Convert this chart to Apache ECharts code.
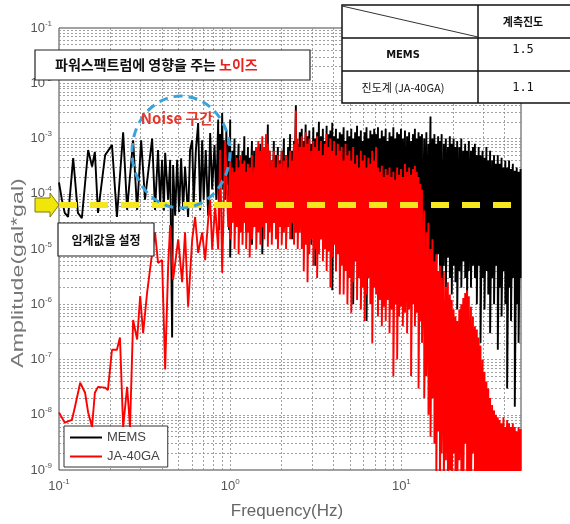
<!DOCTYPE html>
<html><head><meta charset="utf-8">
<script src="https://cdn.jsdelivr.net/npm/echarts@6/dist/echarts.min.js"></script>
<style>html,body{margin:0;padding:0;background:#fff}#c{width:570px;height:524px}</style>
</head><body><div id="c"></div>
<script>
// ---------- data ----------
const seriesNames = ['MEMS', 'JA-40GA'];
const memsLowHz = [0.100,0.104,0.108,0.113,0.121,0.129,0.136,0.148,0.156,0.162,0.169,0.186,0.204,0.218,0.237,0.250,0.271,0.286,0.302,0.318,0.350,0.364,0.379,0.390,0.400,0.410,0.417,0.434,0.446,0.458,0.464,0.477,0.490,0.503,0.517,0.531,0.545,0.568,0.583,0.600,0.612,0.630,0.650,0.668,0.686,0.700,0.720,0.744,0.764,0.785,0.810,0.830,0.851,0.860,0.874,0.886,0.898,0.910,0.920,0.935,0.950,0.960,0.974,0.985];
const memsLowAmp = [1.6e-4,7.8e-5,4.5e-5,3.8e-5,4.4e-4,4.5e-5,3.6e-5,6.2e-4,3.1e-4,5.7e-4,4.5e-5,5e-4,7.6e-4,3.8e-5,1.3e-3,5.1e-5,9.3e-4,5.1e-5,9.3e-4,7.8e-5,1e-3,5.1e-5,6.2e-4,6.3e-5,4.1e-4,5e-5,5.5e-4,7.8e-5,4.1e-4,2.5e-7,3.3e-4,4e-5,4.1e-4,4.7e-5,4.4e-4,5.1e-5,3.1e-4,3.8e-5,6.2e-4,9.3e-4,6.3e-5,6e-4,1.9e-3,5.1e-5,9.3e-4,7.8e-5,6.2e-4,4e-5,1.26e-3,1.2e-4,7.6e-4,7.8e-5,2.2e-3,2.2e-5,1.2e-3,1.8e-4,2.9e-3,1.2e-4,9.3e-4,7.8e-5,1.4e-3,1.45e-4,7.6e-4,2.2e-5];
const jaLowHz = [0.100,0.108,0.119,0.124,0.133,0.142,0.148,0.156,0.162,0.169,0.186,0.193,0.204,0.218,0.227,0.237,0.250,0.260,0.271,0.286,0.298,0.310,0.327,0.350,0.364,0.379,0.400,0.417,0.434,0.446,0.464,0.497,0.524,0.545,0.568,0.600,0.624,0.650,0.686,0.714,0.744,0.764,0.785,0.817,0.851,0.874,0.898,0.935,0.974];
const jaLowAmp = [1.1e-8,7.2e-9,8.1e-9,1.4e-8,3.8e-8,2.5e-8,1.1e-8,6e-9,2.5e-8,3.2e-8,3.1e-8,2.8e-8,1.5e-7,1.5e-7,2.5e-7,6e-9,3.2e-8,6e-9,5.2e-7,2.3e-7,1.4e-6,3e-7,1.6e-6,8.5e-6,2e-5,5.6e-6,6.3e-6,6.6e-8,4.7e-6,2.7e-5,2.8e-6,1.5e-5,2.5e-6,2e-5,9e-7,1.5e-5,3.8e-5,8.5e-6,2e-5,6.3e-6,3.4e-5,7.8e-5,9.8e-6,6e-5,9.8e-6,6.2e-4,3.7e-6,9e-4,2.5e-5];
// dense band 1-50 Hz: for each frequency a peak value and a trough value
const highHz = [1.00,1.03,1.06,1.09,1.12,1.15,1.18,1.21,1.24,1.27,1.30,1.34,1.38,1.42,1.46,1.50,1.54,1.58,1.62,1.66,1.70,1.75,1.80,1.85,1.90,1.95,2.00,2.06,2.12,2.18,2.24,2.30,2.36,2.42,2.48,2.55,2.62,2.69,2.76,2.83,2.90,2.98,3.06,3.14,3.22,3.30,3.39,3.48,3.57,3.66,3.75,3.85,3.95,4.05,4.15,4.26,4.37,4.48,4.60,4.72,4.84,4.97,5.10,5.23,5.37,5.51,5.65,5.80,5.95,6.10,6.26,6.42,6.59,6.76,6.94,7.12,7.30,7.49,7.69,7.89,8.10,8.31,8.53,8.75,8.98,9.21,9.45,9.70,9.95,10.2,10.5,10.8,11.1,11.4,11.7,12.0,12.3,12.6,12.9,13.2,13.6,14.0,14.4,14.8,15.2,15.6,16.0,16.4,16.8,17.2,17.7,18.2,18.7,19.2,19.7,20.2,20.7,21.2,21.8,22.4,23.0,23.6,24.2,24.8,25.5,26.2,26.9,27.6,28.3,29.0,29.8,30.6,31.4,32.2,33.0,33.9,34.8,35.7,36.6,37.5,38.5,39.5,40.5,41.5,42.6,43.7,44.8,46.0,47.2,48.4,49.7];
const memsPeak = [2.2e-3,6e-4,1e-3,5e-4,8e-4,4e-4,6e-4,1.1e-3,5e-4,7e-4,4.5e-4,9e-4,6e-4,7e-4,5e-4,8e-4,
 6e-4,4e-4,7e-4,1.8e-3,6e-4,4e-4,9e-4,5e-4,7e-4,4e-4,6e-4,1e-3,5e-4,7e-4,1.2e-3,6e-4,9e-4,4e-3,8e-4,1.3e-3,
 1.5e-3,9e-4,1.8e-3,1.1e-3,1.4e-3,8e-4,1.6e-3,1e-3,1.3e-3,2e-3,1.1e-3,1.5e-3,9e-4,1.7e-3,1.2e-3,1.4e-3,1.9e-3,1.1e-3,1.5e-3,1e-3,1.3e-3,
 1.2e-3,1.6e-3,9e-4,1.4e-3,1.1e-3,1.5e-3,1e-3,1.3e-3,1.7e-3,1.1e-3,1.4e-3,9e-4,1.3e-3,1.6e-3,1e-3,1.4e-3,1.2e-3,1.5e-3,
 1.2e-3,1.6e-3,1e-3,1.4e-3,1.1e-3,1.5e-3,9e-4,1.3e-3,1.1e-3,1.6e-3,1e-3,1.3e-3,1.2e-3,1.5e-3,1e-3,1.4e-3,1.1e-3,1.3e-3,9e-4,1.2e-3,1.5e-3,1e-3,1.3e-3,1.1e-3,1.2e-3,
 1e-3,1.3e-3,8e-4,2.5e-3,1e-3,1.2e-3,8e-4,1.1e-3,9e-4,1.2e-3,8e-4,1e-3,7e-4,1.1e-3,8e-4,1e-3,7e-4,9e-4,7e-4,1e-3,6e-4,8e-4,6e-4,9e-4,6e-4,7e-4,
 8e-4,5e-4,7e-4,5e-4,6e-4,4.5e-4,7e-4,4e-4,6e-4,4e-4,5e-4,3.5e-4,5e-4,3.5e-4,4.5e-4,3e-4,4e-4,3e-4,4e-4,2.8e-4,3.5e-4,2.6e-4,3e-4,2.5e-4,2.8e-4];
const memsTrough = [7e-6,4e-5,3e-5,6e-5,2.5e-5,5e-5,3e-5,4e-5,2e-5,5e-5,3e-5,1.2e-5,4e-5,2.5e-5,3.5e-5,5e-5,
 8e-6,4e-5,3e-5,5e-5,2.5e-5,4e-5,3e-5,6e-5,2e-5,4e-5,3e-5,5e-5,2.5e-5,4e-5,3e-5,1.5e-5,4e-5,3e-5,2.5e-5,4e-5,
 3e-5,1.5e-5,3e-5,2e-5,4e-5,1.2e-5,2.5e-5,5e-6,2e-5,3e-5,1.5e-5,2.5e-5,1e-5,3e-5,1.8e-5,2.5e-5,1.8e-6,2e-5,1.2e-5,2.5e-5,1.5e-5,
 1.5e-5,8e-6,2e-5,1e-5,1.8e-5,7e-6,1e-6,1.2e-5,2e-5,8e-6,1.5e-5,6e-6,1.2e-5,5e-7,1e-5,6e-6,1.5e-5,5e-6,
 8e-6,4e-6,1.2e-5,3e-6,7e-6,2.5e-6,1e-5,5e-6,3e-6,8e-6,4e-6,1.2e-6,6e-6,3e-6,9e-6,4e-6,2e-6,6e-6,3e-6,8e-6,2.5e-6,5e-6,3e-6,7e-6,2e-6,
 4e-6,2e-6,6e-6,3e-6,1.5e-6,5e-6,2.5e-6,8e-6,3e-6,4e-7,5e-6,2e-6,7e-6,3e-6,1.5e-6,5e-6,2.5e-6,8e-7,4e-6,2e-6,6e-6,3e-6,1.2e-6,4e-6,2e-6,5e-6,
 3e-6,1e-6,5e-6,2e-7,3e-6,8e-7,4e-6,1.5e-6,3e-7,3e-6,1e-6,5e-6,1.5e-7,2e-6,6e-7,4e-6,1e-6,3e-8,2e-6,5e-7,3e-6,1.4e-8,1e-6,2e-7,3e-6];
const jaPeak = [4e-4,3e-4,2.5e-4,4.5e-4,3e-4,5e-4,3.5e-4,4e-4,2.5e-4,3.5e-4,3e-4,5e-4,3e-4,7e-4,9e-4,6e-4,
 1.1e-3,7e-4,1.2e-3,8e-4,6e-4,4e-4,6e-4,3e-4,5e-4,3.5e-4,6e-4,4e-4,5e-4,3e-4,6e-4,4e-4,8e-4,3.2e-3,1e-3,7e-4,
 1.1e-3,7e-4,1.3e-3,8e-4,1e-3,6e-4,9e-4,7e-4,1.1e-3,6e-4,9e-4,5e-4,8e-4,1.2e-3,7e-4,1e-3,6e-4,9e-4,5e-4,8e-4,6e-4,
 7e-4,4e-4,8e-4,5e-4,6e-4,4e-4,7e-4,3.5e-4,5e-4,3e-4,6e-4,4e-4,5e-4,3e-4,4.5e-4,3.5e-4,6e-4,4e-4,
 7e-4,3e-4,2.5e-4,3.2e-4,2e-4,2.8e-4,2.2e-4,3e-4,2e-4,2.5e-4,1.8e-4,3e-4,2.2e-4,2.8e-4,2e-4,3.5e-4,2.5e-4,3e-4,2.2e-4,2.8e-4,3.2e-4,2.5e-4,2e-4,1.5e-4,1.2e-4,
 5e-5,2e-5,3e-5,1e-5,1.5e-5,6e-6,8e-6,4e-6,5e-6,3e-6,4e-6,2e-6,2.5e-6,1.5e-6,1.2e-6,8e-7,6e-7,5e-7,8e-7,1e-6,1.3e-6,1.6e-6,1.8e-6,1.4e-6,9e-7,6e-7,
 4e-7,3.5e-7,2.5e-7,1.8e-7,1e-7,6e-8,4e-8,3e-8,2e-8,1.5e-8,1.2e-8,1e-8,9e-9,8e-9,7e-9,9e-9,6e-9,8e-9,7e-9,6e-9,7e-9,6e-9,5e-9,6e-9,5.5e-9];
const jaTrough = [1.5e-5,3e-5,1e-5,2.5e-5,8e-6,2e-5,1.2e-5,3e-5,1e-5,2e-5,7e-6,1.5e-5,2.5e-5,1e-5,2e-5,1.2e-5,
 2.5e-5,1.5e-5,3e-5,1.1e-5,2e-5,1.2e-5,3e-5,1.5e-5,1e-5,2.5e-5,1.2e-5,2e-5,1e-5,2.5e-5,1.5e-5,3e-5,1.2e-5,2e-5,1e-5,2e-5,
 1e-5,4e-6,1.2e-5,2.5e-6,8e-6,1.5e-5,5e-6,1e-5,3e-6,8e-6,1.5e-5,6e-6,1e-5,4e-6,9e-6,2e-6,7e-6,1.2e-5,4e-6,8e-6,1.5e-6,
 5e-6,1.5e-6,4e-6,1e-6,3e-6,7e-7,2.5e-6,6e-6,1.2e-6,3e-6,8e-7,2e-6,5e-7,1.5e-6,3e-6,1e-6,2e-7,2e-6,
 1.5e-6,6e-7,1.2e-6,4e-7,9e-7,5e-7,1.2e-6,3e-7,8e-7,5e-8,1e-6,1e-7,6e-7,9e-7,4e-7,7e-7,3e-7,8e-7,5e-8,1e-6,4e-7,7e-7,3e-8,5e-7,2e-7,
 2e-8,5e-8,1e-8,4e-9,2e-8,3e-9,8e-10,5e-9,5e-10,2e-9,5e-10,1.5e-9,4e-10,1e-9,4e-10,2e-9,4e-10,4e-10,1.5e-9,4e-10,4e-10,3e-9,4e-10,4e-10,4e-10,2e-9,
 4e-10,4e-10,4e-10,4e-10,4e-10,4e-10,4e-10,4e-10,4e-10,4e-10,4e-10,4e-10,4e-10,4e-10,4e-10,4e-10,4e-10,4e-10,4e-10,4e-10,4e-10,4e-10,4e-10,4e-10,4e-10];
const thresholdAmp = 6.3e-5;
const xRange = [0.1, 50];
const yRange = [1e-9, 1e-1];
const tableHeader = '계측진도';
const tableRows = [['MEMS', '1.5'], ['진도계 (JA-40GA)', '1.1']];
const titleText = ['파워스팩트럼에 영향을 주는 ', '노이즈'];
const noiseText = 'Noise 구간';
const thresholdText = '임계값을 설정';

// ---------- build ----------
function build(lowHz, lowAmp, peak, trough) {
  const d = lowHz.map((f, i) => [f, lowAmp[i]]);
  highHz.forEach((f, i) => { d.push([f, peak[i]]); d.push([f, trough[i]]); });
  return d;
}
const memsData = build(memsLowHz, memsLowAmp, memsPeak, memsTrough);
const jaData = build(jaLowHz, jaLowAmp, jaPeak, jaTrough);

// grid lines at 1..9 x 10^k (as segments drawn through the axes)
const gridSegs = [];
for (let k = -1; k <= 1; k++) for (let m = 1; m <= 9; m++) {
  const v = m * Math.pow(10, k);
  if (v > xRange[0] * 1.001 && v < xRange[1] * 0.999) gridSegs.push({ coords: [[v, yRange[0]], [v, yRange[1]]] });
}
for (let k = -9; k <= -2; k++) for (let m = 1; m <= 9; m++) {
  const v = m * Math.pow(10, k);
  if (v > yRange[0] * 1.001 && v < yRange[1] * 0.999) gridSegs.push({ coords: [[xRange[0], v], [xRange[1], v]] });
}

function pow10(v) {
  const e = Math.log10(v), r = Math.round(e);
  if (Math.abs(e - r) > 1e-6) return '';
  return '10{s|' + r + '}';
}
const labelStyle = {
  color: '#555', fontSize: 13, fontFamily: 'Liberation Sans, Arial, sans-serif',
  formatter: pow10,
  rich: { s: { fontSize: 8, color: '#555', padding: [0, 0, 9, 0], fontFamily: 'Liberation Sans, Arial, sans-serif' } }
};

const chart = echarts.init(document.getElementById('c'), null, { renderer: 'canvas' });
const KR = '"Noto Sans CJK KR", sans-serif';
chart.setOption({
  animation: false,
  backgroundColor: '#fff',
  grid: { left: 59, right: 49, top: 28, bottom: 54, show: true, borderColor: '#444', borderWidth: 1, backgroundColor: 'transparent' },
  xAxis: {
    type: 'log', logBase: 10, min: xRange[0], max: xRange[1], splitNumber: 3,
    axisLine: { show: false }, axisTick: { show: false }, splitLine: { show: false },
    axisLabel: Object.assign({ margin: 8, showMaxLabel: false }, labelStyle)
  },
  yAxis: {
    type: 'log', logBase: 10, min: yRange[0], max: yRange[1], splitNumber: 8,
    axisLine: { show: false }, axisTick: { show: false }, splitLine: { show: false },
    axisLabel: Object.assign({ margin: 7 }, labelStyle)
  },
  legend: {
    data: seriesNames, orient: 'vertical', left: 64, top: 426,
    backgroundColor: '#fff', borderColor: '#333', borderWidth: 1, borderRadius: 0,
    padding: [5, 8, 4, 6], itemGap: 6, itemWidth: 32, itemHeight: 2, icon: 'rect',
    textStyle: { color: '#444', fontSize: 13, fontFamily: 'Liberation Sans, Arial, sans-serif' }
  },
  series: [
    {
      type: 'lines', name: 'grid', coordinateSystem: 'cartesian2d', silent: true, z: 1,
      polyline: false, effect: { show: false },
      lineStyle: { color: '#8a8a8a', type: [2, 2], width: 0.8, opacity: 1 },
      data: gridSegs
    },
    {
      type: 'line', name: seriesNames[0], data: memsData, symbol: 'none', showSymbol: false, z: 3,
      lineStyle: { color: '#000', width: 1.9 }, itemStyle: { color: '#000' }
    },
    {
      type: 'line', name: seriesNames[1], data: jaData, symbol: 'none', showSymbol: false, z: 4,
      lineStyle: { color: '#ff0000', width: 1.9 }, itemStyle: { color: '#ff0000' }
    },
    {
      type: 'lines', name: 'threshold', coordinateSystem: 'cartesian2d', silent: true, z: 8,
      polyline: false, effect: { show: false },
      lineStyle: { color: '#f5e61e', type: [18, 13], width: 6, opacity: 1 },
      data: [{ coords: [[xRange[0], thresholdAmp], [xRange[1], thresholdAmp]] }]
    }
  ],
  graphic: [
    { type: 'ellipse', z: 50, shape: { cx: 181, cy: 152, rx: 49, ry: 56 },
      style: { fill: 'none', stroke: '#3aa3dc', lineWidth: 3, lineDash: [9, 6] } },
    { type: 'text', z: 51, x: 177, y: 118,
      style: { text: noiseText, fill: '#e8362c', font: 'bold 15px ' + KR, align: 'center', verticalAlign: 'middle', textAlign: 'center', textVerticalAlign: 'middle' } },
    { type: 'rect', z: 60, shape: { x: 35, y: 50, width: 275, height: 30 }, style: { fill: '#fff', stroke: '#222', lineWidth: 1.2 } },
    { type: 'text', z: 61, x: 55, y: 65,
      style: { text: '{k|' + titleText[0] + '}{r|' + titleText[1] + '}', verticalAlign: 'middle', textVerticalAlign: 'middle',
        rich: { k: { fill: '#111', color: '#111', font: 'bold 14px ' + KR, fontSize: 14, fontWeight: 'bold', fontFamily: KR },
                r: { fill: '#e8221c', color: '#e8221c', font: 'bold 14px ' + KR, fontSize: 14, fontWeight: 'bold', fontFamily: KR } } } },
    { type: 'rect', z: 60, shape: { x: 58, y: 223, width: 96, height: 33 }, style: { fill: '#fff', stroke: '#222', lineWidth: 1.2 } },
    { type: 'text', z: 61, x: 106, y: 240,
      style: { text: thresholdText, fill: '#111', font: 'bold 12px ' + KR, align: 'center', verticalAlign: 'middle', textAlign: 'center', textVerticalAlign: 'middle' } },
    { type: 'polygon', z: 62, shape: { points: [[35, 198], [50, 198], [50, 193], [59, 205], [50, 217], [50, 212], [35, 212]] },
      style: { fill: '#f0e60a', stroke: '#7d7a10', lineWidth: 1 } },
    // table
    { type: 'rect', z: 70, shape: { x: 342, y: 5, width: 240, height: 98 }, style: { fill: '#fff', stroke: '#111', lineWidth: 1.5 } },
    { type: 'line', z: 71, shape: { x1: 478, y1: 5, x2: 478, y2: 103 }, style: { stroke: '#111', lineWidth: 1.5 } },
    { type: 'line', z: 71, shape: { x1: 342, y1: 38, x2: 570, y2: 38 }, style: { stroke: '#111', lineWidth: 1.5 } },
    { type: 'line', z: 71, shape: { x1: 342, y1: 71, x2: 570, y2: 71 }, style: { stroke: '#111', lineWidth: 1.5 } },
    { type: 'line', z: 71, shape: { x1: 342, y1: 6, x2: 478, y2: 37 }, style: { stroke: '#333', lineWidth: 1 } },
    { type: 'text', z: 72, x: 523, y: 22, style: { text: tableHeader, fill: '#111', font: 'bold 11px ' + KR, align: 'center', verticalAlign: 'middle', textAlign: 'center', textVerticalAlign: 'middle' } },
    { type: 'text', z: 72, x: 403, y: 55, style: { text: tableRows[0][0], fill: '#111', font: 'bold 11px "DejaVu Sans Condensed", ' + KR, align: 'center', verticalAlign: 'middle', textAlign: 'center', textVerticalAlign: 'middle' } },
    { type: 'text', z: 72, x: 523, y: 50, style: { text: tableRows[0][1], fill: '#111', font: '12px "DejaVu Sans Mono", monospace', align: 'center', verticalAlign: 'middle', textAlign: 'center', textVerticalAlign: 'middle' } },
    { type: 'text', z: 72, x: 403, y: 88, style: { text: tableRows[1][0], fill: '#111', font: '11px ' + KR, align: 'center', verticalAlign: 'middle', textAlign: 'center', textVerticalAlign: 'middle' } },
    { type: 'text', z: 72, x: 523, y: 88, style: { text: tableRows[1][1], fill: '#111', font: '12px "DejaVu Sans Mono", monospace', align: 'center', verticalAlign: 'middle', textAlign: 'center', textVerticalAlign: 'middle' } },
    // axis names
    { type: 'text', z: 40, x: 19, y: 273, rotation: Math.PI / 2, scaleX: 1.45,
      style: { text: 'Amplitude(gal*gal)', fill: '#777', font: '16px "Liberation Sans", Arial, sans-serif', align: 'center', verticalAlign: 'middle', textAlign: 'center', textVerticalAlign: 'middle' } },
    { type: 'text', z: 40, x: 287, y: 511,
      style: { text: 'Frequency(Hz)', fill: '#666', font: '17px "Liberation Sans", Arial, sans-serif', align: 'center', verticalAlign: 'middle', textAlign: 'center', textVerticalAlign: 'middle' } }
  ]
});
</script>
</body></html>
